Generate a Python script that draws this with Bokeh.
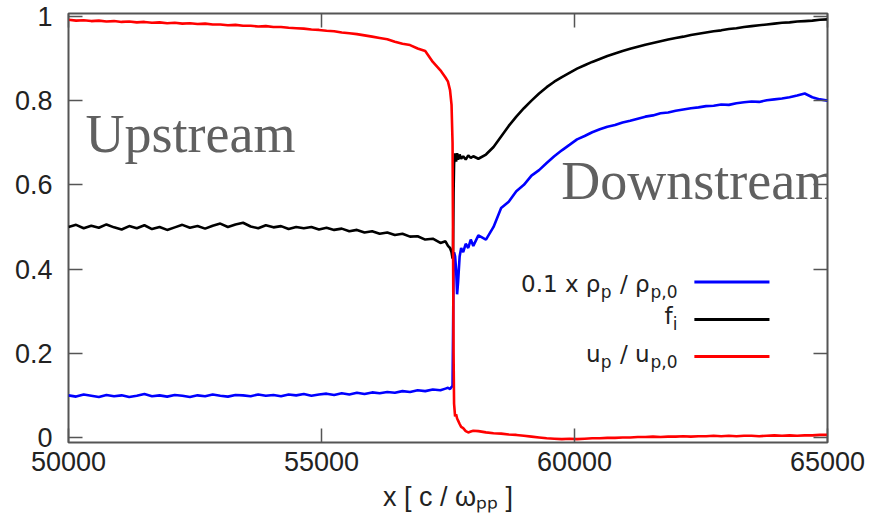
from bokeh.plotting import figure
from bokeh.models import (Range1d, LinearAxis, FixedTicker, CustomJSTickFormatter,
                          Label, Arrow, ColumnDataSource)
from bokeh.embed import file_html
from bokeh.resources import INLINE

# ---------------- data ----------------
x_pos = [50000, 50150, 50300, 50450, 50600, 50750, 50900, 51050, 51200, 51350,
         51500, 51650, 51800, 51950, 52100, 52250, 52400, 52550, 52700, 52850,
         53000, 53150, 53300, 53450, 53600, 53750, 53900, 54050, 54200, 54350,
         54500, 54650, 54800, 54950, 55100, 55250, 55400, 55550, 55700, 55850,
         56000, 56150, 56300, 56450, 56600, 56750, 56900, 57050, 57200, 57350,
         57450, 57500, 57540, 57570, 57590, 57600, 57610, 57620, 57640, 57660,
         57680, 57700, 57730, 57760, 57800, 57850, 57900, 57950, 58000, 58100,
         58250, 58400, 58550, 58700, 58850, 59000, 59150, 59300, 59450, 59600,
         59750, 59900, 60050, 60200, 60350, 60500, 60650, 60800, 60950, 61100,
         61250, 61400, 61550, 61700, 61850, 62000, 62150, 62300, 62450, 62600,
         62750, 62900, 63050, 63200, 63350, 63500, 63650, 63800, 63950, 64100,
         64250, 64400, 64550, 64700, 64850, 65000]

# 0.1 x rho_p / rho_p,0
rho_p = [0.100, 0.097, 0.102, 0.099, 0.096, 0.101, 0.098, 0.100, 0.096, 0.099,
         0.103, 0.098, 0.100, 0.097, 0.101, 0.099, 0.096, 0.100, 0.098, 0.102,
         0.099, 0.097, 0.101, 0.100, 0.098, 0.102, 0.099, 0.101, 0.098, 0.102,
         0.100, 0.103, 0.099, 0.102, 0.104, 0.101, 0.105, 0.102, 0.106, 0.103,
         0.107, 0.105, 0.108, 0.106, 0.110, 0.108, 0.112, 0.110, 0.114, 0.112,
         0.116, 0.118, 0.115, 0.120, 0.122, 0.250, 0.400, 0.440, 0.430, 0.400,
         0.340, 0.370, 0.430, 0.450, 0.440, 0.460, 0.450, 0.470, 0.455, 0.480,
         0.470, 0.500, 0.545, 0.560, 0.585, 0.600, 0.622, 0.635, 0.652, 0.668,
         0.682, 0.695, 0.708, 0.716, 0.725, 0.732, 0.738, 0.742, 0.748, 0.752,
         0.757, 0.762, 0.765, 0.770, 0.772, 0.776, 0.779, 0.782, 0.784, 0.787,
         0.788, 0.791, 0.790, 0.794, 0.796, 0.798, 0.797, 0.801, 0.803, 0.805,
         0.808, 0.812, 0.817, 0.808, 0.803, 0.800]

# f_i
f_i = [0.500, 0.505, 0.497, 0.503, 0.498, 0.506, 0.499, 0.494, 0.502, 0.497,
       0.504, 0.495, 0.500, 0.493, 0.499, 0.505, 0.498, 0.502, 0.496, 0.503,
       0.508, 0.500, 0.506, 0.510, 0.501, 0.497, 0.504, 0.499, 0.502, 0.495,
       0.500, 0.497, 0.500, 0.494, 0.498, 0.493, 0.496, 0.490, 0.493, 0.487,
       0.490, 0.484, 0.487, 0.481, 0.484, 0.477, 0.478, 0.470, 0.472, 0.462,
       0.466, 0.455, 0.450, 0.440, 0.425, 0.440, 0.580, 0.650, 0.675, 0.655,
       0.675, 0.660, 0.672, 0.662, 0.668, 0.660, 0.670, 0.664, 0.668, 0.662,
       0.672, 0.690, 0.715, 0.740, 0.762, 0.782, 0.800, 0.817, 0.832, 0.845,
       0.856, 0.866, 0.876, 0.884, 0.892, 0.899, 0.906, 0.912, 0.918, 0.923,
       0.928, 0.933, 0.937, 0.941, 0.945, 0.949, 0.952, 0.956, 0.959, 0.962,
       0.965, 0.967, 0.970, 0.972, 0.975, 0.977, 0.979, 0.981, 0.983, 0.985,
       0.986, 0.988, 0.989, 0.990, 0.992, 0.993]

# u_p / u_p,0
u_p = [0.992, 0.990, 0.991, 0.989, 0.990, 0.988, 0.989, 0.987, 0.988, 0.986,
       0.987, 0.985, 0.986, 0.984, 0.985, 0.983, 0.984, 0.982, 0.983, 0.981,
       0.981, 0.979, 0.980, 0.978, 0.978, 0.976, 0.977, 0.975, 0.975, 0.973,
       0.972, 0.971, 0.969, 0.968, 0.966, 0.965, 0.962, 0.960, 0.958, 0.955,
       0.952, 0.949, 0.946, 0.940, 0.935, 0.932, 0.924, 0.918, 0.892, 0.872,
       0.855, 0.845, 0.825, 0.790, 0.700, 0.450, 0.200, 0.080, 0.050, 0.055,
       0.045, 0.040, 0.032, 0.025, 0.022, 0.015, 0.012, 0.014, 0.016, 0.015,
       0.012, 0.010, 0.009, 0.007, 0.006, 0.004, 0.002, 0.000, -0.002, -0.003,
       -0.004, -0.003, -0.004, -0.003, -0.002, -0.002, -0.001, -0.001, 0.000, 0.000,
       0.001, 0.001, 0.002, 0.001, 0.002, 0.002, 0.003, 0.002, 0.003, 0.003,
       0.004, 0.003, 0.004, 0.003, 0.004, 0.004, 0.003, 0.004, 0.005, 0.004,
       0.005, 0.004, 0.005, 0.005, 0.006, 0.006]

x_ticks = [50000, 55000, 60000, 65000]
y_ticks = [0, 0.2, 0.4, 0.6, 0.8, 1]

# key texts as (segment, is_subscript)
key_texts = [
    [("0.1 x \u03c1", False), ("p", True), (" / \u03c1", False), ("p,0", True)],
    [("f", False), ("i", True)],
    [("u", False), ("p", True), (" / u", False), ("p,0", True)],
]
x_title = "x [ c / \u03c9\u209a\u209a ]"
series_colors = ["#0000ff", "#000000", "#ff0000"]

# ---------------- figure ----------------
FRAME = "#555555"
TXT = "#222222"
TICK_FONT = "Liberation Sans"
BASE_SHIFT = 0.38   # compensation for the renderer's alphabetic baseline, in em

p = figure(width=872, height=521, output_backend="svg", toolbar_location=None,
           x_range=Range1d(50000, 65000), y_range=Range1d(-0.012, 1.007),
           min_border_left=68, min_border_right=45, min_border_top=13,
           min_border_bottom=79)
p.background_fill_color = "white"
p.border_fill_color = "white"
p.outline_line_color = FRAME
p.outline_line_width = 2
p.xgrid.visible = False
p.ygrid.visible = False

yfmt = CustomJSTickFormatter(code="return (Math.round(tick*10)/10).toString();")

def style_axis(ax, show_labels):
    ax.axis_line_color = None
    ax.major_tick_in = 14
    ax.major_tick_out = 0
    ax.minor_tick_in = 0
    ax.minor_tick_out = 0
    ax.major_tick_line_color = FRAME
    ax.major_tick_line_width = 1.5
    ax.major_label_text_font = TICK_FONT
    ax.major_label_text_font_size = "27px"
    ax.major_label_text_color = TXT if show_labels else None

xa = p.xaxis[0]
xa.ticker = FixedTicker(ticks=x_ticks)
style_axis(xa, True)
xa.major_label_standoff = 9
xa.axis_label = x_title
xa.axis_label_text_font = TICK_FONT
xa.axis_label_text_font_size = "27px"
xa.axis_label_text_font_style = "normal"
xa.axis_label_text_color = TXT
xa.axis_label_standoff = 8

ya = p.yaxis[0]
ya.ticker = FixedTicker(ticks=y_ticks)
ya.formatter = yfmt
style_axis(ya, True)
ya.major_label_standoff = 16

top_ax = LinearAxis(ticker=FixedTicker(ticks=x_ticks))
style_axis(top_ax, False)
top_ax.major_label_standoff = 0
p.add_layout(top_ax, "above")

right_ax = LinearAxis(ticker=FixedTicker(ticks=y_ticks))
style_axis(right_ax, False)
right_ax.major_label_standoff = 0
p.add_layout(right_ax, "right")

src = ColumnDataSource(dict(x=x_pos, rho=rho_p, fi=f_i, up=u_p))
for col, color in zip(["rho", "fi", "up"], series_colors):
    p.line("x", col, source=src, line_color=color, line_width=2.6)

# region labels
for txt, lx, ly in [("Upstream", 50336, 0.67), ("Downstream", 59737, 0.56)]:
    p.add_layout(Label(x=lx, y=ly, y_offset=round(BASE_SHIFT * 54), text=txt,
                       text_font="Liberation Serif", text_font_size="54px",
                       text_color="#606060", text_baseline="alphabetic"))

# approximate advance widths (em) for chaining subscript pieces right to left
DJV = {'0': .636, '1': .636, '.': .318, ' ': .318, 'x': .592, '\u03c1': .635,
       '/': .337, 'p': .635, ',': .318, 'f': .352, 'i': .278, 'u': .634}
WSCALE = 1.03

def rich_text_right(x, y, segs, font, size, subsize, sub_drop):
    off = 0.0
    for t, sub in reversed(segs):
        fs = subsize if sub else size
        trail = (len(t) - len(t.rstrip(" "))) * DJV[' '] * fs * WSCALE
        w = sum(DJV[c] for c in t) * fs * WSCALE
        p.add_layout(Label(x=x, y=y, x_offset=-(off + trail),
                           y_offset=round(BASE_SHIFT * fs) - (sub_drop if sub else 0),
                           text=t.strip(" "), text_font=font,
                           text_font_size=f"{fs}px", text_color=TXT,
                           text_align="right", text_baseline="alphabetic"))
        off += w

# key (gnuplot style: text left, sample right)
key_y = [0.369, 0.280, 0.192]
key_base = [0.344, 0.266, 0.178]
for segs, color, ky, kb in zip(key_texts, series_colors, key_y, key_base):
    rich_text_right(62035, kb, segs, "DejaVu Sans", 23, 17, 5)
    p.add_layout(Arrow(end=None, start=None, x_start=62369, y_start=ky,
                       x_end=63853, y_end=ky, line_color=color, line_width=3))

open("out.html", "w").write(file_html(p, INLINE))
